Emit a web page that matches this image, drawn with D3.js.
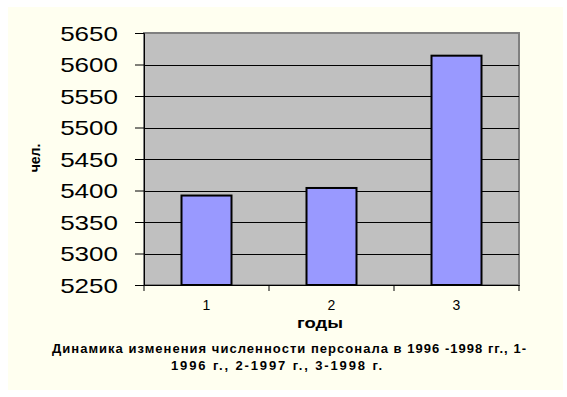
<!DOCTYPE html>
<html>
<head>
<meta charset="utf-8">
<script src="https://cdn.jsdelivr.net/npm/d3@7"></script>
<style>
  body { margin: 0; background: #ffffff; }
  text { font-family: Arial, "Liberation Sans", sans-serif; }
</style>
</head>
<body>
<script>
// data
var categories = ["1", "2", "3"];
var staff = [5392, 5404, 5614];
var yTicks = [5250, 5300, 5350, 5400, 5450, 5500, 5550, 5600, 5650];
var titleLines = ["Динамика изменения численности персонала в 1996 -1998 гг., 1-",
                  "1996 г., 2-1997 г., 3-1998 г."];

var W = 567, H = 397;
var plot = { left: 144, top: 33, right: 519, bottom: 285 };

var svg = d3.select("body").append("svg")
    .attr("width", W)
    .attr("height", H);

// chart area
svg.append("rect")
    .attr("x", 8).attr("y", 7)
    .attr("width", 555).attr("height", 383)
    .attr("fill", "#fffff0");

var x = d3.scaleBand()
    .domain(categories)
    .range([plot.left, plot.right])
    .paddingInner(0.6)
    .paddingOuter(0.3);

var y = d3.scaleLinear()
    .domain([5250, 5650])
    .range([plot.bottom, plot.top]);

// plot area
svg.append("rect")
    .attr("x", plot.left).attr("y", plot.top)
    .attr("width", plot.right - plot.left)
    .attr("height", plot.bottom - plot.top)
    .attr("fill", "#c0c0c0")
    .attr("stroke", "#808080")
    .attr("stroke-width", 2);

// gridlines
svg.selectAll(".grid")
    .data(yTicks.slice(1, -1))
    .enter().append("line")
    .attr("x1", plot.left).attr("x2", plot.right)
    .attr("y1", function (d) { return Math.round(y(d)) + 0.5; })
    .attr("y2", function (d) { return Math.round(y(d)) + 0.5; })
    .attr("stroke", "#000")
    .attr("stroke-width", 1);

// bars
svg.selectAll(".bar")
    .data(staff)
    .enter().append("rect")
    .attr("x", function (d, i) { return x(categories[i]); })
    .attr("y", function (d) { return y(d); })
    .attr("width", x.bandwidth())
    .attr("height", function (d) { return y(5250) - y(d); })
    .attr("fill", "#9999ff")
    .attr("stroke", "#000")
    .attr("stroke-width", 2);

// y axis
var yAxis = d3.axisLeft(y).tickValues(yTicks).tickSize(9).tickFormat(d3.format("d"));
var gy = svg.append("g")
    .attr("transform", "translate(" + plot.left + ",0)")
    .call(yAxis);
gy.select(".domain").attr("stroke", "#000").attr("stroke-width", 1);
gy.selectAll(".tick line").attr("stroke", "#000");
gy.selectAll(".tick text")
    .attr("x", 0)
    .attr("dy", "0.36em")
    .attr("font-size", 20)
    .attr("fill", "#000")
    .attr("text-anchor", "end")
    .attr("transform", "translate(-26,0) scale(1.3,1)");

// x axis
var xAxis = d3.axisBottom(x).tickSize(0).tickSizeOuter(0);
var gx = svg.append("g")
    .attr("transform", "translate(0," + plot.bottom + ")")
    .call(xAxis);
gx.select(".domain").attr("stroke", "#000");
gx.selectAll(".tick text")
    .attr("y", 25)
    .attr("dy", 0)
    .attr("font-size", 14)
    .attr("fill", "#000");
// category separators
var edges = [plot.left].concat(categories.map(function (c) {
    return x(c) + x.bandwidth() + x.step() * 0.3;
}));
gx.selectAll(".sep")
    .data(edges)
    .enter().append("line")
    .attr("x1", function (d) { return d; })
    .attr("x2", function (d) { return d; })
    .attr("y1", 0).attr("y2", 6)
    .attr("stroke", "#000");

// axis titles
svg.append("text")
    .attr("transform", "translate(40,158) rotate(-90)")
    .attr("text-anchor", "middle")
    .attr("font-size", 14)
    .attr("font-weight", "bold")
    .text("чел.");

svg.append("text")
    .attr("x", 297).attr("y", 328)
    .attr("textLength", 46)
    .attr("lengthAdjust", "spacingAndGlyphs")
    .attr("font-size", 14)
    .attr("font-weight", "bold")
    .text("годы");

// caption
var capStart = [52, 171], capLen = [474, 211];
svg.selectAll(".cap")
    .data(titleLines)
    .enter().append("text")
    .attr("x", function (d, i) { return capStart[i]; })
    .attr("y", function (d, i) { return 353 + i * 17; })
    .attr("textLength", function (d, i) { return capLen[i]; })
    .attr("lengthAdjust", "spacing")
    .attr("font-size", 13)
    .attr("font-weight", "bold")
    .text(function (d) { return d; });
</script>
</body>
</html>
